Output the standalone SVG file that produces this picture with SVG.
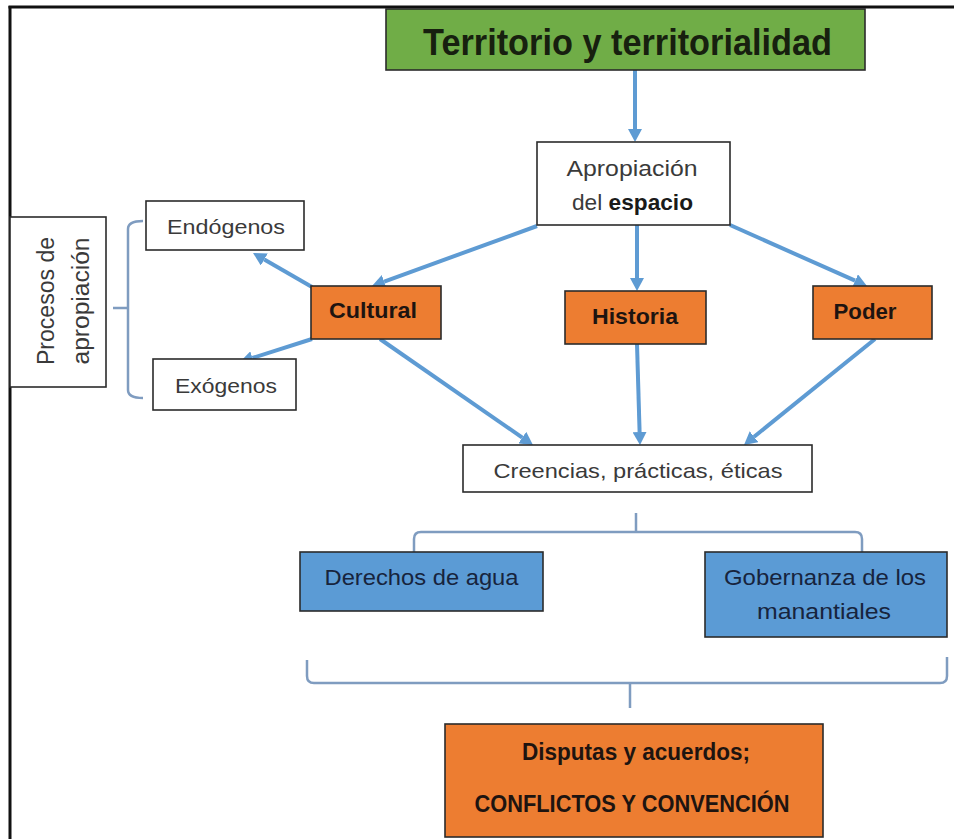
<svg xmlns="http://www.w3.org/2000/svg" width="954" height="839" viewBox="0 0 954 839">
<style>
  .box{stroke:#2b2b2b;stroke-width:1.6}
  .white{fill:#ffffff}
  .orange{fill:#ED7D31}
  .blue{fill:#5B9BD5}
  .green{fill:#70AD47}
  .t{font-family:"Liberation Sans",Arial,sans-serif;font-size:22px;fill:#3a3a3a;text-anchor:middle}
  .b{font-weight:bold;fill:#1e1410}
  .tb{fill:#17243d}
  .conn{stroke:#5E9BD3;stroke-width:4;fill:none;marker-end:url(#ah)}
  .brace{stroke:#7F9CC0;stroke-width:2.5;fill:none}
</style>
<defs>
  <marker id="ah" markerUnits="userSpaceOnUse" viewBox="0 0 13 14" refX="0" refY="7" markerWidth="13" markerHeight="14" orient="auto">
    <path d="M0,0 L13,7 L0,14 z" fill="#5E9BD3"/>
  </marker>
</defs>
<rect width="954" height="839" fill="#ffffff"/>
<g id="frame">
  <line x1="8.5" y1="7" x2="954" y2="7" stroke="#111" stroke-width="3"/>
  <line x1="10" y1="6" x2="10" y2="839" stroke="#111" stroke-width="3"/>
</g>

<g id="connectors">
  <path class="conn" d="M635,70 L635,129"/>
  <path class="conn" d="M537,226 L384.2,281.6"/>
  <path class="conn" d="M637,225 L637,278"/>
  <path class="conn" d="M730,225 L855.1,280.7"/>
  <path class="conn" d="M312,287 L264.3,259.5"/>
  <path class="conn" d="M312,339 L252.4,358"/>
  <path class="conn" d="M380,339 L522.3,437.6"/>
  <path class="conn" d="M637,344 L639.6,432"/>
  <path class="conn" d="M875,339 L754.1,436.8"/>
</g>

<g id="braces">
  <path class="brace" d="M143,221 Q128,221 128,229 L128,390 Q128,398 143,398 M128,308 L113,308"/>
  <path class="brace" d="M414,552 L414,539 Q414,532 421,532 L855,532 Q862,532 862,539 L862,552 M636,532 L636,513"/>
  <path class="brace" d="M307,660 L307,676 Q307,683 314,683 L940,683 Q947,683 947,676 L947,657 M630,683 L630,708"/>
</g>

<g id="title">
  <rect class="box green" x="386" y="9" width="479" height="61"/>
  <text class="t b" x="627.5" y="55" style="font-size:36px;fill:#17200f" textLength="409" lengthAdjust="spacingAndGlyphs">Territorio y territorialidad</text>
</g>

<g id="apropiacion">
  <rect class="box white" x="537" y="142" width="193" height="83"/>
  <text class="t" x="632" y="176" textLength="131" lengthAdjust="spacingAndGlyphs">Apropiación</text>
  <text class="t" x="632.5" y="210" textLength="121" lengthAdjust="spacingAndGlyphs">del <tspan style="font-weight:bold;fill:#1a1a1a">espacio</tspan></text>
</g>

<g id="procesos">
  <rect class="box white" x="10" y="217" width="96" height="170"/>
  <text class="t" transform="translate(54,301) rotate(-90)" style="font-size:23px" textLength="128" lengthAdjust="spacingAndGlyphs">Procesos de</text>
  <text class="t" transform="translate(89,301) rotate(-90)" style="font-size:23px" textLength="127" lengthAdjust="spacingAndGlyphs">apropiación</text>
</g>

<g id="endogenos">
  <rect class="box white" x="146" y="201" width="158" height="49"/>
  <text class="t" x="226" y="234" style="font-size:21px" textLength="118" lengthAdjust="spacingAndGlyphs">Endógenos</text>
</g>

<g id="exogenos">
  <rect class="box white" x="153" y="359" width="143" height="51"/>
  <text class="t" x="226" y="393" style="font-size:21px" textLength="102" lengthAdjust="spacingAndGlyphs">Exógenos</text>
</g>

<g id="cultural">
  <rect class="box orange" x="311" y="286" width="130" height="53"/>
  <text class="t b" x="373" y="318" textLength="88" lengthAdjust="spacingAndGlyphs">Cultural</text>
</g>

<g id="historia">
  <rect class="box orange" x="565" y="291" width="141" height="53"/>
  <text class="t b" x="635" y="324" textLength="86" lengthAdjust="spacingAndGlyphs">Historia</text>
</g>

<g id="poder">
  <rect class="box orange" x="813" y="286" width="119" height="53"/>
  <text class="t b" x="865" y="319" textLength="63" lengthAdjust="spacingAndGlyphs">Poder</text>
</g>

<g id="creencias">
  <rect class="box white" x="463" y="445" width="349" height="47"/>
  <text class="t" x="638" y="478" style="font-size:21px" textLength="289" lengthAdjust="spacingAndGlyphs">Creencias, prácticas, éticas</text>
</g>

<g id="derechos">
  <rect class="box blue" x="300" y="552" width="243" height="59"/>
  <text class="t tb" x="421.5" y="585" textLength="194" lengthAdjust="spacingAndGlyphs">Derechos de agua</text>
</g>

<g id="gobernanza">
  <rect class="box blue" x="705" y="552" width="242" height="85"/>
  <text class="t tb" x="825" y="585" textLength="202" lengthAdjust="spacingAndGlyphs">Gobernanza de los</text>
  <text class="t tb" x="824" y="619" textLength="134" lengthAdjust="spacingAndGlyphs">manantiales</text>
</g>

<g id="disputas">
  <rect class="box orange" x="445" y="724" width="378" height="113"/>
  <text class="t b" x="636" y="760" style="font-size:23px" textLength="228" lengthAdjust="spacingAndGlyphs">Disputas y acuerdos;</text>
  <text class="t b" x="632" y="812" style="font-size:23px" textLength="315" lengthAdjust="spacingAndGlyphs">CONFLICTOS Y CONVENCIÓN</text>
</g>
</svg>
